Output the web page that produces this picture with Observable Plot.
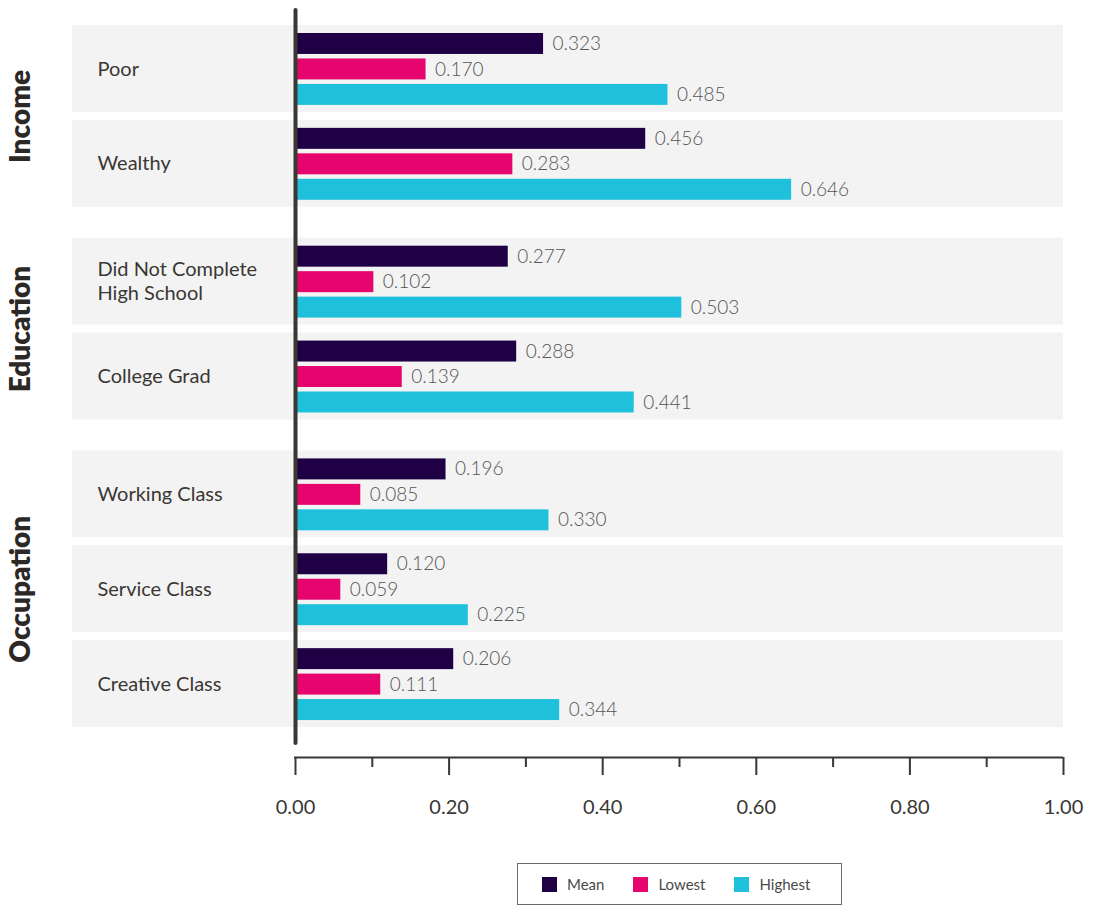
<!DOCTYPE html>
<html>
<head>
<meta charset="utf-8">
<script src="https://cdn.jsdelivr.net/npm/d3@7"></script>
<script src="https://cdn.jsdelivr.net/npm/@observablehq/plot@0.6"></script>
<style>
  html, body { margin: 0; padding: 0; background: #fff; }
  body { width: 1095px; font-family: Lato, "Open Sans", sans-serif; }
  #legend { position: relative; margin-left: 517px; margin-top: 13px; width: 323px; height: 40px;
    border: 1px solid #6a6a6a; display: flex; align-items: center; box-sizing: content-box; }
  .item { display: flex; align-items: center; font-size: 15px; color: #4a4a4a; font-weight: 400; }
  .sw { width: 15px; height: 15px; margin-right: 10px; }
</style>
</head>
<body>
<div id="chart"></div>
<div id="legend"></div>
<script>
// ---- data ----
const groups = ["Income", "Education", "Occupation"];
const categories = ["Poor", "Wealthy", "Did Not Complete\nHigh School", "College Grad", "Working Class", "Service Class", "Creative Class"];
const categoryGroups = ["Income", "Income", "Education", "Education", "Occupation", "Occupation", "Occupation"];
const seriesNames = ["Mean", "Lowest", "Highest"];
const seriesColors = ["#1f0045", "#e6056f", "#1fc0dc"];
const meanValues = [0.323, 0.456, 0.277, 0.288, 0.196, 0.120, 0.206];
const lowestValues = [0.170, 0.283, 0.102, 0.139, 0.085, 0.059, 0.111];
const highestValues = [0.485, 0.646, 0.503, 0.441, 0.330, 0.225, 0.344];
const majorTicks = [0, 0.2, 0.4, 0.6, 0.8, 1.0];
const minorTicks = [0.1, 0.3, 0.5, 0.7, 0.9];
const tickLabels = ["0.00", "0.20", "0.40", "0.60", "0.80", "1.00"];

// ---- layout (in y-scale units) ----
const STEP = 95, BAND = 87, GAP = 23, BAR_TOP = 8, BAR_H = 21, BAR_STEP = 25.5, AXIS_OFF = 30;
const seriesValues = [meanValues, lowestValues, highestValues];

const rows = categories.map((c, i) => {
  const gi = groups.indexOf(categoryGroups[i]);
  const top = i * STEP + gi * GAP;
  return {category: c, group: categoryGroups[i], top, bottom: top + BAND, mid: top + BAND / 2};
});
const total = rows[rows.length - 1].bottom;
const yMax = total + AXIS_OFF;

const bars = rows.flatMap((r, i) => seriesNames.map((s, j) => {
  const y1 = r.top + BAR_TOP + j * BAR_STEP;
  return {series: s, value: seriesValues[j][i], y1, y2: y1 + BAR_H, ym: y1 + BAR_H / 2};
}));

const groupRows = groups.map(g => {
  const rs = rows.filter(r => r.group === g);
  return {group: g, mid: (rs[0].top + rs[rs.length - 1].bottom) / 2};
});

const ink = "#3a3733";

const chart = Plot.plot({
  width: 1095,
  height: 850,
  marginLeft: 295,
  marginRight: 32,
  marginTop: 25,
  marginBottom: 93,
  style: {fontFamily: "Lato, 'Open Sans', sans-serif", color: ink, background: "#fff"},
  x: {domain: [0, 1], label: null},
  y: {domain: [0, yMax], reverse: true, axis: null},
  color: {domain: seriesNames, range: seriesColors},
  marks: [
    Plot.rect(rows, {y1: "top", y2: "bottom", fill: "#f3f3f3", insetLeft: -223}),
    Plot.rect(bars, {x1: 0, x2: "value", y1: "y1", y2: "y2", fill: "series"}),
    Plot.text(bars, {x: "value", y: "ym", text: d => d.value.toFixed(3), textAnchor: "start", dx: 9,
      fill: "#555", fontSize: 19, fontWeight: 300}),
    Plot.text(rows, {y: "mid", text: "category", frameAnchor: "left", textAnchor: "start", dx: -198, dy: -1,
      fill: ink, fontSize: 20, lineHeight: 1.2}),
    Plot.text(groupRows, {y: "mid", text: "group", frameAnchor: "left", textAnchor: "middle", dx: -274, rotate: -90,
      fill: "#2b2825", fontSize: 28, fontWeight: 800}),
    Plot.ruleX([0], {stroke: ink, strokeWidth: 4, insetTop: -15, insetBottom: 14, strokeLinecap: "round"}),
    Plot.ruleY([yMax], {stroke: ink, strokeWidth: 2, insetLeft: -1}),
    Plot.axisX(minorTicks, {tickSize: 10, tickFormat: () => "", label: null, stroke: ink, strokeWidth: 2}),
    Plot.axisX(majorTicks, {tickSize: 18, tickPadding: 24, label: null, tickFormat: d => tickLabels[majorTicks.indexOf(d)],
      stroke: ink, strokeWidth: 2, fill: ink, fontSize: 20})
  ]
});
document.getElementById("chart").appendChild(chart);

// ---- legend ----
const legend = d3.select("#legend");
seriesNames.forEach((s, i) => {
  const item = legend.append("div").attr("class", "item")
    .style("margin-left", i === 0 ? "24px" : "29px");
  item.append("div").attr("class", "sw").style("background", seriesColors[i]);
  item.append("span").text(s);
});
</script>
</body>
</html>
